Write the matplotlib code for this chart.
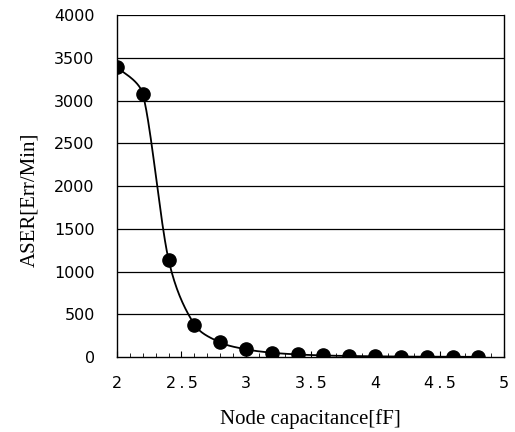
import numpy as np
import matplotlib
matplotlib.use("Agg")
import matplotlib.pyplot as plt
from matplotlib.ticker import MultipleLocator

capacitance = [2.0, 2.2, 2.4, 2.6, 2.8, 3.0, 3.2, 3.4, 3.6, 3.8, 4.0, 4.2, 4.4, 4.6, 4.8]
aser = [3390, 3080, 1140, 380, 170, 90, 50, 30, 18, 12, 8, 5, 4, 3, 2]
yticks = [0, 500, 1000, 1500, 2000, 2500, 3000, 3500, 4000]
xticks = [2, 2.5, 3, 3.5, 4, 4.5, 5]
xlabels = ["2", "2.5", "3", "3.5", "4", "4.5", "5"]


def smooth_curve(x, y, n=30):
    # Smoothed line: cubic Bezier segments (tension 1/6) with limited handles
    x = np.asarray(x, float)
    y = np.asarray(y, float)
    px, py = [], []
    for i in range(len(x) - 1):
        x0, y0 = (x[i - 1], y[i - 1]) if i > 0 else (x[i], y[i])
        x3, y3 = (x[i + 2], y[i + 2]) if i + 2 < len(x) else (x[i + 1], y[i + 1])
        d1x, d1y = (x[i + 1] - x0) / 6, (y[i + 1] - y0) / 6
        d2x, d2y = (x3 - x[i]) / 6, (y3 - y[i]) / 6
        lim = 0.5 * abs(y[i + 1] - y[i])
        if abs(d1y) > lim and d1y != 0:
            s = lim / abs(d1y)
            d1x, d1y = d1x * s, d1y * s
        if abs(d2y) > lim and d2y != 0:
            s = lim / abs(d2y)
            d2x, d2y = d2x * s, d2y * s
        c1x, c1y = x[i] + d1x, y[i] + d1y
        c2x, c2y = x[i + 1] - d2x, y[i + 1] - d2y
        t = np.linspace(0, 1, n)
        bx = (1 - t) ** 3 * x[i] + 3 * (1 - t) ** 2 * t * c1x + 3 * (1 - t) * t ** 2 * c2x + t ** 3 * x[i + 1]
        by = (1 - t) ** 3 * y[i] + 3 * (1 - t) ** 2 * t * c1y + 3 * (1 - t) * t ** 2 * c2y + t ** 3 * y[i + 1]
        px.extend(bx)
        py.extend(by)
    return np.array(px), np.array(py)


fig = plt.figure(figsize=(5.15, 4.32), dpi=100)
ax = fig.add_axes([0.227, 0.1736, 0.752, 0.7916])

for v in yticks[1:]:
    ax.axhline(v, color="black", lw=0.9, zorder=1)

sx, sy = smooth_curve(capacitance, aser)
ax.plot(sx, sy, color="black", lw=1.3, zorder=2)
ax.plot(capacitance, aser, "o", color="black", markersize=9.5, zorder=3)

ax.set_xlim(2, 5)
ax.set_ylim(0, 4000)
ax.set_yticks(yticks)
ax.set_yticklabels([str(v) for v in yticks])
ax.set_xticks(xticks)
ax.set_xticklabels([s.replace(".", "\u2009.\u2009") for s in xlabels])
ax.xaxis.set_minor_locator(MultipleLocator(0.1))

for s in ["left", "bottom", "right"]:
    ax.spines[s].set_color("black")
    ax.spines[s].set_linewidth(1.0)
ax.spines["top"].set_visible(False)

for lab in ax.get_xticklabels() + ax.get_yticklabels():
    lab.set_fontfamily("DejaVu Sans")
    lab.set_fontsize(11.5)

ax.tick_params(axis="y", length=0, pad=16)
ax.tick_params(axis="x", which="major", direction="in", length=4, pad=14)
ax.tick_params(axis="x", which="minor", direction="in", length=3)

ax.set_xlabel("Node capacitance[fF]", family="Liberation Serif", fontsize=15, labelpad=13)
ax.set_ylabel("ASER[Err/Min]", family="Liberation Serif", fontsize=15)
ax.yaxis.set_label_coords(-0.2, 0.46)

fig.savefig("out.png", dpi=100)
